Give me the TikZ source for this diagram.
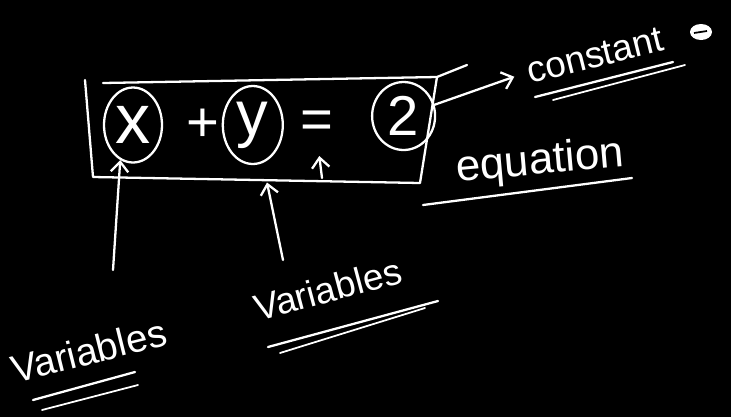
\documentclass[tikz,border=0pt]{standalone}
\usepackage{fontspec}
\setmainfont{Liberation Sans}
\usetikzlibrary{arrows.meta,positioning,shapes.geometric}

\begin{document}
\begin{tikzpicture}[x=0.02cm, y=-0.02cm,
  chalk/.style = {draw=white, line width=1.3pt, line cap=round, line join=round},
  ring/.style = {chalk, ellipse, inner sep=0pt, text=white},
  sym/.style = {text=white, inner sep=0pt, font=\fontsize{32}{36}\selectfont},
  word/.style = {text=white, inner sep=2pt, anchor=base},
  arrow/.style = {chalk, -{Straight Barb[length=2mm, width=3.5mm]}}
  ]

% blackboard
\fill[black] (0,0) rectangle (731,417);
\useasboundingbox (0,0) rectangle (731,417);

% the equation, circled terms
\node[ring, minimum width=1.16cm, minimum height=1.5cm, font=\fontsize{40}{44}\selectfont] (x) at (133,125) {x};
\node[sym, right=0.47cm of x] (plus) {+};
\node[ring, minimum width=1.2cm, minimum height=1.56cm, font=\fontsize{36}{40}\selectfont, right=0.03cm of plus] (y) {y};
\node[sym, right=0.33cm of y] (eq) {=};
\node[ring, minimum width=1.26cm, minimum height=1.36cm, font=\fontsize{32}{36}\selectfont, right=0.74cm of eq, yshift=0.18cm] (two) {2};

% box round the equation
\coordinate (bnw) at (85,80);
\coordinate (bsw) at (93,177);
\coordinate (bse) at (420,183);
\coordinate (bne) at (437,77);
\draw[chalk] (bnw) -- (bsw) -- (bse) -- (bne);
\draw[chalk] (103,83) -- (bne) -- ++(30,-12);

% labels
\node[word, rotate=14, font=\fontsize{21}{24}\selectfont] (const) at (598,67) {constant};
\node[word, rotate=5, font=\fontsize{25}{28}\selectfont] (eqn) at (541,174) {equation};
\node[word, rotate=14, font=\fontsize{22}{26}\selectfont] (varA) at (92,364) {Variables};
\node[word, rotate=15, font=\fontsize{21}{24}\selectfont] (varB) at (331,302) {Variables};

% underlines
\draw[chalk] (535,97) -- (673,62);
\draw[chalk, line width=1pt] (553,100) -- (685,65);
\draw[chalk] (423,205) -- (632,178);
\draw[chalk] (33,400) -- (135,372);
\draw[chalk, line width=1pt] (42,410) -- (138,385);
\draw[chalk] (268,347) -- (438,301);
\draw[chalk, line width=1pt] (280,353) -- (425,308);

% doodle after constant
\fill[white] (701,32) ellipse [x radius=11, y radius=8];
\draw[black, line width=1pt] (694,33) -- (707,31);

% arrows
\coordinate (tailA) at (113,270);
\coordinate (tailB) at (283,260);
\coordinate (tailEq) at (322,178);
\draw[arrow] (tailA) -- (x.250);
\draw[arrow, shorten >=4mm] (tailB) -- (y.285);
\draw[arrow, shorten >=3.4mm] (tailEq) -- (eq.south);
\draw[arrow, shorten >=2mm] (two.20) -- (const.west);
\end{tikzpicture}
\end{document}
